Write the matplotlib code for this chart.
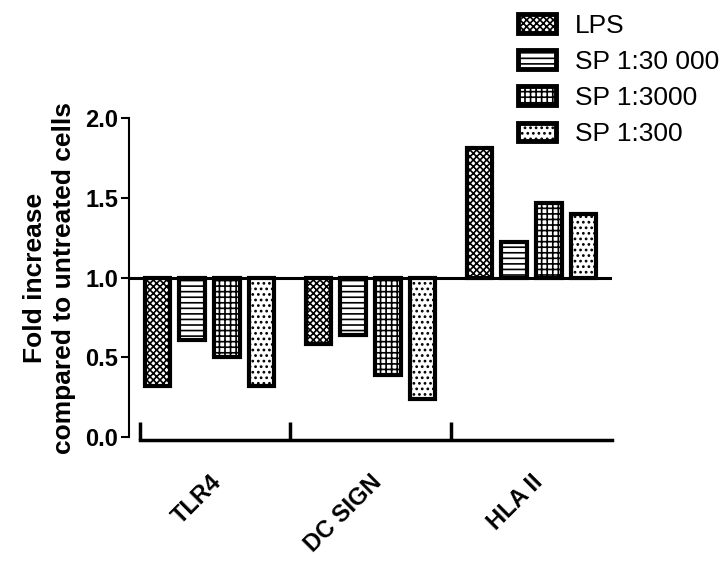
import numpy as np
import matplotlib.pyplot as plt
from matplotlib.patches import Patch

plt.rcParams['font.family'] = ['Liberation Sans', 'DejaVu Sans']
plt.rcParams['hatch.linewidth'] = 1.2

genes = ['TLR4', 'DC SIGN', 'HLA II']
treatments = ['LPS', 'SP 1:30 000', 'SP 1:3000', 'SP 1:300']
lps = [0.32, 0.58, 1.81]
sp_30000 = [0.61, 0.64, 1.22]
sp_3000 = [0.50, 0.39, 1.47]
sp_300 = [0.32, 0.24, 1.40]
yticks = [0.0, 0.5, 1.0, 1.5, 2.0]

series = [lps, sp_30000, sp_3000, sp_300]
hatches = ['xxxxx', '---', '+++', '...']

fig = plt.figure(figsize=(7.26, 5.66), dpi=100)
ax = fig.add_axes([0.1777, 0.2279, 0.6653, 0.5636])

# spines first: set_position resets the ticks
ax.spines['top'].set_visible(False)
ax.spines['right'].set_visible(False)
ax.spines['left'].set_linewidth(1.5)
ax.spines['bottom'].set_linewidth(2.5)
ax.spines['bottom'].set_position(('outward', 2))
ax.spines['bottom'].set_bounds(-0.43, 2.5)

x = np.arange(len(genes))
width = 0.16
step = 0.215
for i, (vals, h) in enumerate(zip(series, hatches)):
    vals = np.array(vals)
    ax.bar(x + (i - 1.5) * step, vals - 1.0, width, bottom=1.0,
           facecolor='white', edgecolor='black', linewidth=3, hatch=h,
           zorder=2)

# baseline at 1.0
ax.axhline(1.0, color='black', linewidth=2.2, zorder=3)

ax.set_xlim(-0.5, 2.5)
ax.set_ylim(0, 2.0)
ax.tick_params(axis='y', direction='out', length=6, width=1.5, pad=2)
ax.set_yticks(yticks)
ax.set_yticklabels([f'{v:.1f}' for v in yticks], fontsize=17, fontweight='bold')

# gene names on major ticks, group boundaries as minor ticks
ax.tick_params(axis='x', which='major', length=0, pad=22)
ax.tick_params(axis='x', which='minor', direction='in', length=13, width=2.5)
ax.set_xticks(x)
ax.set_xticklabels(genes, rotation=45, rotation_mode='anchor', ha='right',
                   va='top', fontsize=17, fontweight='bold')
ax.set_xticks([-0.43, 0.5, 1.5], minor=True)

ax.set_ylabel('Fold increase\ncompared to untreated cells', fontsize=19,
              fontweight='bold', linespacing=1.25)
ax.yaxis.set_label_coords(-0.11, 0.5)

handles = [Patch(facecolor='white', edgecolor='black', linewidth=3.5, hatch=h)
           for h in hatches]
fig.legend(handles, treatments, loc='upper left',
           bbox_to_anchor=(0.7135, 0.976), frameon=False, fontsize=19,
           handlelength=1.45, handleheight=0.7, handletextpad=0.7,
           labelspacing=0.46, borderpad=0, borderaxespad=0)

fig.savefig('out.png', dpi=100)
